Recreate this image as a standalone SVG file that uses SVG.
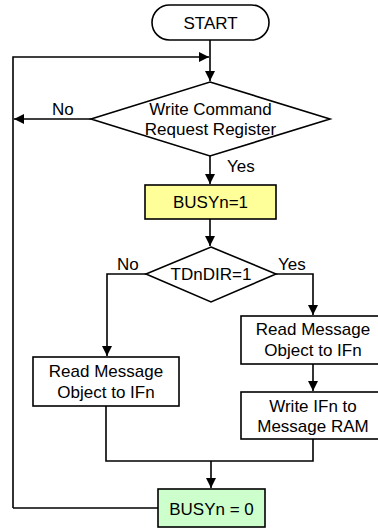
<svg xmlns="http://www.w3.org/2000/svg" width="378" height="529" viewBox="0 0 378 529">
<style>
.s{stroke:#000;stroke-width:1.6;fill:#fff}
.l{stroke:#000;stroke-width:1.6;fill:none}
text{font-family:"Liberation Sans",Arial,sans-serif;font-size:17px;fill:#000}
.c{text-anchor:middle}
</style>
<defs>
<marker id="a" viewBox="0 0 10 10" refX="10" refY="5" markerWidth="10" markerHeight="10" markerUnits="userSpaceOnUse" orient="auto">
<path d="M0,0 L10,5 L0,10 z" fill="#000"/>
</marker>
</defs>
<g id="connectors">
<path class="l" d="M210,40 V81" marker-end="url(#a)"/>
<path class="l" d="M13,508 V57 H209" marker-end="url(#a)"/>
<path class="l" d="M91,119 H14" marker-end="url(#a)"/>
<path class="l" d="M210,156 V184" marker-end="url(#a)"/>
<path class="l" d="M210,219 V246" marker-end="url(#a)"/>
<path class="l" d="M146,274 H107 V356" marker-end="url(#a)"/>
<path class="l" d="M276,274 H313 V315" marker-end="url(#a)"/>
<path class="l" d="M313,364 V391" marker-end="url(#a)"/>
<path class="l" d="M106,406 V461 H313 V439"/>
<path class="l" d="M211,461 V488" marker-end="url(#a)"/>
<path class="l" d="M158,508 H13"/>
</g>
<g id="start">
<rect class="s" x="152" y="5" width="117" height="35" rx="17.5"/>
<text class="c" x="210.5" y="28.5">START</text>
</g>
<g id="dec1">
<polygon class="s" points="210,82 330,119 210,156 91,119"/>
<text class="c" x="210.5" y="115">Write Command</text>
<text class="c" x="210.5" y="135">Request Register</text>
</g>
<text x="52" y="115">No</text>
<text x="227" y="172">Yes</text>
<g id="busy1">
<rect class="s" x="145" y="185" width="131" height="34" style="fill:#FFFF99"/>
<text class="c" x="210.5" y="208">BUSYn=1</text>
</g>
<g id="dec2">
<polygon class="s" points="211,247 276,274 211,302 146,274"/>
<text class="c" x="211" y="280">TDnDIR=1</text>
</g>
<text x="117" y="270">No</text>
<text x="278" y="270">Yes</text>
<g id="readL">
<rect class="s" x="33" y="357" width="146" height="49"/>
<text class="c" x="106" y="377">Read Message</text>
<text class="c" x="106" y="398">Object to IFn</text>
</g>
<g id="readR">
<rect class="s" x="241" y="316" width="140" height="48"/>
<text class="c" x="313" y="335">Read Message</text>
<text class="c" x="313" y="356">Object to IFn</text>
</g>
<g id="writeR">
<rect class="s" x="241" y="392" width="140" height="47"/>
<text class="c" x="313" y="412">Write IFn to</text>
<text class="c" x="313" y="432">Message RAM</text>
</g>
<g id="busy0">
<rect class="s" x="158" y="489" width="107" height="38" style="fill:#CCFFCC"/>
<text class="c" x="211.5" y="515">BUSYn = 0</text>
</g>
</svg>
